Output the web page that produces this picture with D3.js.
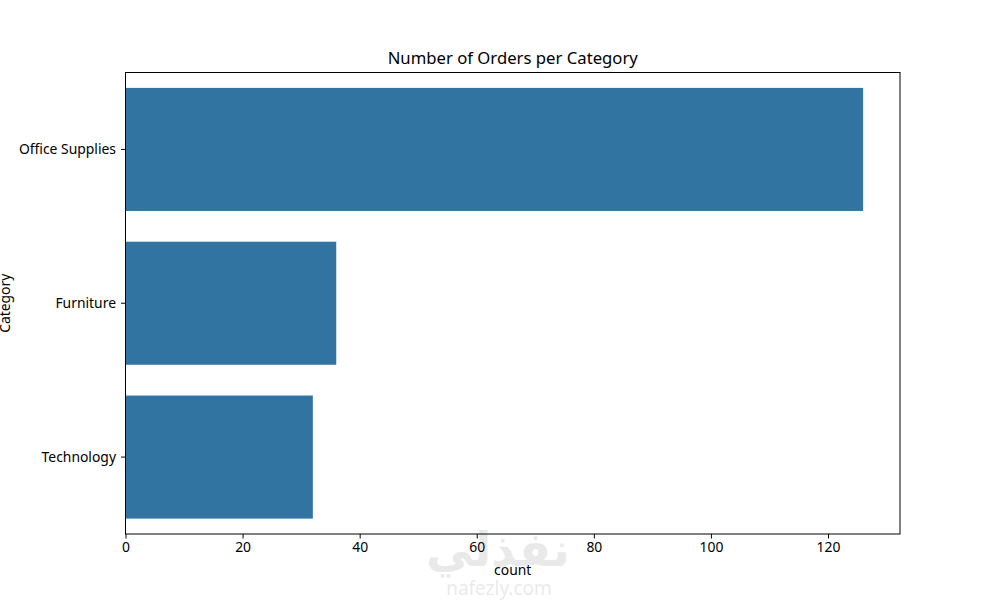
<!DOCTYPE html>
<html lang="en">
<head>
    <meta charset="UTF-8">
    <title>orders per category</title>
    <script src="https://cdn.jsdelivr.net/npm/d3@7"></script>
    <style>
        body{ margin: 0; background: #fff; }
        text{ font-family: "Noto Sans", "DejaVu Sans", sans-serif; fill: #000; }
    </style>
</head>
<body>
<svg id="chart" width="1000" height="600"></svg>

<script>
    // data
    let categories = ["Office Supplies", "Furniture", "Technology"]
    let counts = [126, 36, 32]
    let xTicks = [0, 20, 40, 60, 80, 100, 120]

    let barColor = "#3274a1"
    let margin = {left: 125.5, right: 100, top: 72.5, bottom: 66}
    let width = 1000, height = 600

    let svg = d3.select("#chart")

    // faint watermark (sits behind the labels)
    let wm = svg.append("g").attr("opacity", 0.12)
    wm.append("text")
        .attr("x", 498).attr("y", 566)
        .attr("text-anchor", "middle")
        .style("font-size", "47px").style("font-weight", "bold")
        .style("fill", "#555")
        .text("نفذلي")
    wm.append("text")
        .attr("x", 499).attr("y", 595)
        .attr("text-anchor", "middle")
        .style("font-size", "19px")
        .style("fill", "#555")
        .text("nafezly.com")

    // scales
    let x = d3.scaleLinear()
        .domain([0, d3.max(counts) * 1.05])
        .range([margin.left, width - margin.right])
    let y = d3.scaleBand()
        .domain(categories)
        .range([margin.top, height - margin.bottom])
        .paddingInner(0.2)
        .paddingOuter(0.1)

    // bars
    svg.append("g")
        .selectAll("rect")
        .data(categories)
        .join("rect")
        .attr("x", x(0))
        .attr("y", d => y(d))
        .attr("width", (d, i) => x(counts[i]) - x(0))
        .attr("height", y.bandwidth())
        .attr("fill", barColor)

    // axes
    let xAxis = svg.append("g")
        .attr("transform", "translate(0," + (height - margin.bottom) + ")")
        .call(d3.axisBottom(x).tickValues(xTicks).tickSize(4.5).tickPadding(4))
    let yAxis = svg.append("g")
        .attr("transform", "translate(" + margin.left + ",0)")
        .call(d3.axisLeft(y).tickSize(4.5).tickPadding(5))

    for (let ax of [xAxis, yAxis]) {
        ax.select(".domain").remove()
        ax.selectAll("line").attr("stroke", "#000").attr("stroke-width", 1)
        ax.selectAll("text").style("font-size", "13.9px").attr("font-family", null)
    }

    // frame
    svg.append("rect")
        .attr("x", margin.left)
        .attr("y", margin.top)
        .attr("width", width - margin.right - margin.left)
        .attr("height", height - margin.bottom - margin.top)
        .attr("fill", "none")
        .attr("stroke", "#000")
        .attr("stroke-width", 1)

    // labels
    svg.append("text")
        .attr("x", (margin.left + width - margin.right) / 2)
        .attr("y", 64)
        .attr("text-anchor", "middle")
        .style("font-size", "16.7px")
        .text("Number of Orders per Category")
    svg.append("text")
        .attr("x", (margin.left + width - margin.right) / 2)
        .attr("y", 575)
        .attr("text-anchor", "middle")
        .style("font-size", "13.9px")
        .text("count")
    svg.append("text")
        .attr("transform", "translate(9.5," + ((margin.top + height - margin.bottom) / 2) + ") rotate(-90)")
        .attr("text-anchor", "middle")
        .style("font-size", "13.9px")
        .text("Category")
</script>
</body>
</html>
